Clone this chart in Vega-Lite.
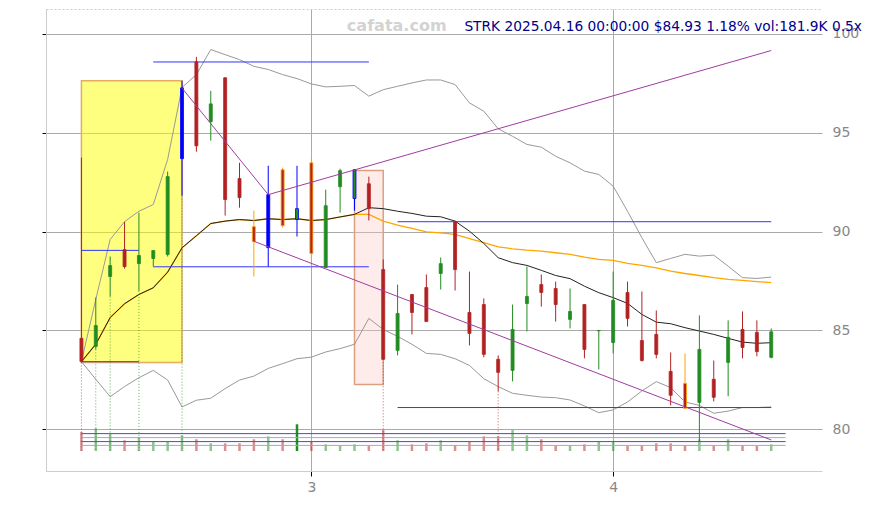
{
  "$schema": "https://vega.github.io/schema/vega-lite/v6.json",
  "width": 776,
  "height": 462,
  "autosize": "none",
  "padding": {"left": 46, "top": 9, "right": 50, "bottom": 34},
  "config": {"view": {"stroke": null}, "font": "DejaVu Sans", "axis": {"labelFont": "DejaVu Sans"}, "scale": {"continuousPadding": 0}},
  "datasets": {
    "c": [
      {"x": 2.2381, "o": 84.6, "h": 93.74, "l": 83.38, "c": 83.43, "t": "down", "v": 516, "d": "down", "m": 1, "bu": 83.42, "bl": 83.42, "ma": 83.42, "em": 83.42},
      {"x": 2.2857, "o": 84.19, "h": 86.67, "l": 84.04, "c": 85.25, "t": "up", "v": 616, "d": "up", "m": 1, "bu": 86.57, "bl": 82.53, "ma": 84.3, "em": 84.3},
      {"x": 2.3333, "o": 87.73, "h": 88.74, "l": 86.72, "c": 88.28, "t": "up", "v": 453, "d": "up", "m": 1, "bu": 89.6, "bl": 81.65, "ma": 85.65, "em": 85.65},
      {"x": 2.381, "o": 89.09, "h": 90.5, "l": 88.13, "c": 88.23, "t": "down", "v": 290, "d": "down", "bu": 90.5, "bl": 82.16, "ma": 86.35, "em": 86.35},
      {"x": 2.4286, "o": 88.38, "h": 90.96, "l": 87.0, "c": 88.79, "t": "up", "v": 380, "d": "up", "m": 1, "bu": 91.03, "bl": 82.61, "ma": 86.82, "em": 86.82},
      {"x": 2.4762, "o": 88.64, "h": 89.04, "l": 88.23, "c": 89.04, "t": "up", "v": 244, "d": "up", "bu": 91.37, "bl": 82.98, "ma": 87.16, "em": 87.16},
      {"x": 2.5238, "o": 88.84, "h": 93.03, "l": 88.74, "c": 92.78, "t": "up", "v": 244, "d": "up", "bu": 93.65, "bl": 82.49, "ma": 87.95, "em": 87.95},
      {"x": 2.5714, "o": 93.69, "h": 97.63, "l": 91.82, "c": 97.27, "t": "blue", "v": 426, "d": "up", "m": 1, "bu": 97.29, "bl": 81.13, "ma": 89.18, "em": 89.18},
      {"x": 2.619, "o": 98.59, "h": 98.84, "l": 94.04, "c": 94.34, "t": "down", "v": 318, "d": "down", "bu": 97.94, "bl": 81.47, "ma": 89.79, "em": 89.79},
      {"x": 2.6667, "o": 95.56, "h": 97.12, "l": 94.6, "c": 96.46, "t": "up", "v": 209, "d": "up", "bu": 99.21, "bl": 81.57, "ma": 90.41, "em": 90.41},
      {"x": 2.7143, "o": 97.78, "h": 97.8, "l": 90.81, "c": 91.62, "t": "down", "v": 209, "d": "down", "bu": 98.95, "bl": 82.06, "ma": 90.53, "em": 90.53},
      {"x": 2.7619, "o": 92.68, "h": 93.48, "l": 91.21, "c": 91.72, "t": "down", "v": 209, "d": "down", "bu": 98.7, "bl": 82.49, "ma": 90.61, "em": 90.61},
      {"x": 2.8095, "o": 90.25, "h": 91.06, "l": 87.73, "c": 89.49, "t": "orange", "v": 318, "d": "down", "bu": 98.36, "bl": 82.69, "ma": 90.56, "em": 90.56},
      {"x": 2.8571, "o": 89.19, "h": 93.33, "l": 88.23, "c": 91.87, "t": "blue", "v": 399, "d": "up", "bu": 98.2, "bl": 83.08, "ma": 90.65, "em": 90.65},
      {"x": 2.9048, "o": 93.13, "h": 93.23, "l": 90.2, "c": 90.3, "t": "orange", "v": 318, "d": "down", "bu": 97.94, "bl": 83.32, "ma": 90.61, "em": 90.61},
      {"x": 2.9524, "o": 90.61, "h": 93.33, "l": 89.75, "c": 91.16, "t": "bg", "v": 725, "d": "up", "hv": 1, "bu": 97.74, "bl": 83.57, "ma": 90.65, "em": 90.65},
      {"x": 3.0, "o": 93.48, "h": 93.74, "l": 88.23, "c": 88.89, "t": "orange", "v": 244, "d": "down", "bu": 97.47, "bl": 83.65, "ma": 90.56, "em": 90.56},
      {"x": 3.0476, "o": 88.18, "h": 92.12, "l": 88.18, "c": 91.31, "t": "up", "v": 182, "d": "up", "bu": 97.32, "bl": 83.91, "ma": 90.61, "em": 90.61},
      {"x": 3.0952, "o": 92.27, "h": 93.18, "l": 90.96, "c": 93.08, "t": "up", "v": 155, "d": "up", "bu": 97.35, "bl": 84.08, "ma": 90.74, "em": 90.74},
      {"x": 3.1429, "o": 91.67, "h": 93.13, "l": 91.06, "c": 93.13, "t": "bg", "v": 182, "d": "up", "bu": 97.39, "bl": 84.3, "ma": 90.87, "em": 90.87},
      {"x": 3.1905, "o": 92.42, "h": 92.78, "l": 90.56, "c": 91.16, "t": "down", "v": 136, "d": "down", "bu": 96.85, "bl": 85.61, "ma": 91.21, "em": 90.87},
      {"x": 3.2381, "o": 88.08, "h": 88.59, "l": 83.54, "c": 83.54, "t": "down", "v": 570, "d": "down", "m": 1, "bu": 97.18, "bl": 85.05, "ma": 91.16, "em": 90.53},
      {"x": 3.2857, "o": 83.99, "h": 87.32, "l": 83.74, "c": 85.86, "t": "up", "v": 290, "d": "up", "bu": 97.35, "bl": 84.7, "ma": 91.03, "em": 90.33},
      {"x": 3.3333, "o": 86.82, "h": 86.82, "l": 84.8, "c": 85.91, "t": "down", "v": 182, "d": "down", "bu": 97.52, "bl": 84.3, "ma": 90.92, "em": 90.16},
      {"x": 3.381, "o": 87.17, "h": 87.83, "l": 85.45, "c": 85.45, "t": "down", "v": 209, "d": "down", "bu": 97.67, "bl": 83.84, "ma": 90.78, "em": 89.99},
      {"x": 3.4286, "o": 87.88, "h": 88.69, "l": 87.07, "c": 88.38, "t": "up", "v": 290, "d": "up", "bu": 97.67, "bl": 83.79, "ma": 90.75, "em": 89.94},
      {"x": 3.4762, "o": 90.51, "h": 90.56, "l": 87.02, "c": 88.08, "t": "down", "v": 155, "d": "down", "bu": 97.44, "bl": 83.57, "ma": 90.53, "em": 89.86},
      {"x": 3.5238, "o": 85.91, "h": 87.98, "l": 84.24, "c": 84.85, "t": "down", "v": 255, "d": "down", "bu": 96.51, "bl": 83.23, "ma": 90.02, "em": 89.65},
      {"x": 3.5714, "o": 86.31, "h": 86.62, "l": 83.64, "c": 83.79, "t": "down", "v": 399, "d": "down", "bu": 96.09, "bl": 82.56, "ma": 89.4, "em": 89.44},
      {"x": 3.619, "o": 83.54, "h": 83.74, "l": 81.92, "c": 82.88, "t": "down", "v": 399, "d": "down", "m": 1, "bu": 95.2, "bl": 82.16, "ma": 88.68, "em": 89.23},
      {"x": 3.6667, "o": 82.98, "h": 86.31, "l": 82.42, "c": 85.05, "t": "up", "v": 570, "d": "up", "bu": 94.82, "bl": 81.82, "ma": 88.43, "em": 89.13},
      {"x": 3.7143, "o": 86.36, "h": 88.23, "l": 84.95, "c": 86.72, "t": "up", "v": 426, "d": "up", "bu": 94.41, "bl": 81.72, "ma": 88.29, "em": 89.06},
      {"x": 3.7619, "o": 87.32, "h": 87.83, "l": 86.21, "c": 86.92, "t": "down", "v": 318, "d": "down", "bu": 94.27, "bl": 81.63, "ma": 88.04, "em": 89.01},
      {"x": 3.8095, "o": 87.12, "h": 87.47, "l": 85.45, "c": 86.31, "t": "down", "v": 155, "d": "down", "bu": 93.81, "bl": 81.6, "ma": 87.78, "em": 88.93},
      {"x": 3.8571, "o": 85.56, "h": 87.12, "l": 85.1, "c": 85.96, "t": "up", "v": 155, "d": "up", "bu": 93.48, "bl": 81.48, "ma": 87.62, "em": 88.85},
      {"x": 3.9048, "o": 86.31, "h": 86.31, "l": 83.59, "c": 84.04, "t": "down", "v": 182, "d": "down", "bu": 93.06, "bl": 81.18, "ma": 87.24, "em": 88.71},
      {"x": 3.9524, "o": 84.98, "h": 85.0, "l": 83.03, "c": 85.0, "t": "up", "v": 255, "d": "up", "bu": 92.89, "bl": 80.84, "ma": 86.91, "em": 88.59},
      {"x": 4.0, "o": 84.39, "h": 87.98, "l": 83.84, "c": 86.52, "t": "up", "v": 255, "d": "up", "bu": 92.3, "bl": 80.98, "ma": 86.66, "em": 88.54},
      {"x": 4.0476, "o": 86.92, "h": 87.47, "l": 85.2, "c": 85.61, "t": "down", "v": 136, "d": "down", "bu": 91.03, "bl": 81.38, "ma": 86.37, "em": 88.39},
      {"x": 4.0952, "o": 84.49, "h": 86.97, "l": 83.43, "c": 83.48, "t": "down", "v": 155, "d": "down", "bu": 89.69, "bl": 81.94, "ma": 85.81, "em": 88.29},
      {"x": 4.1429, "o": 84.8, "h": 86.01, "l": 83.59, "c": 83.79, "t": "down", "v": 209, "d": "down", "bu": 88.43, "bl": 82.41, "ma": 85.42, "em": 88.17},
      {"x": 4.1905, "o": 82.93, "h": 83.89, "l": 81.21, "c": 81.72, "t": "down", "v": 209, "d": "down", "bu": 88.64, "bl": 82.11, "ma": 85.34, "em": 88.0},
      {"x": 4.2381, "o": 82.32, "h": 83.84, "l": 81.06, "c": 81.06, "t": "orange", "v": 155, "d": "down", "bu": 88.85, "bl": 81.38, "ma": 85.14, "em": 87.88},
      {"x": 4.2857, "o": 81.36, "h": 85.76, "l": 79.4, "c": 84.04, "t": "up", "v": 318, "d": "up", "bu": 88.76, "bl": 81.21, "ma": 84.97, "em": 87.78},
      {"x": 4.3333, "o": 82.53, "h": 83.48, "l": 81.41, "c": 81.62, "t": "down", "v": 155, "d": "down", "bu": 88.81, "bl": 80.81, "ma": 84.8, "em": 87.67},
      {"x": 4.381, "o": 83.38, "h": 85.51, "l": 81.67, "c": 84.65, "t": "up", "v": 318, "d": "up", "bu": 88.25, "bl": 80.92, "ma": 84.6, "em": 87.58},
      {"x": 4.4286, "o": 85.05, "h": 85.96, "l": 83.59, "c": 84.14, "t": "down", "v": 155, "d": "down", "bu": 87.67, "bl": 81.1, "ma": 84.41, "em": 87.53},
      {"x": 4.4762, "o": 84.9, "h": 85.51, "l": 83.69, "c": 83.93, "t": "down", "v": 136, "d": "down", "bu": 87.63, "bl": 81.1, "ma": 84.35, "em": 87.47},
      {"x": 4.5238, "o": 83.64, "h": 85.1, "l": 83.59, "c": 84.93, "t": "up", "v": 182, "d": "up", "bu": 87.7, "bl": 81.13, "ma": 84.38, "em": 87.42}
    ],
    "vl": [
      {"x1": 2.2381, "x2": 4.5714, "v": 472, "k": "b"},
      {"x1": 2.2381, "x2": 4.5714, "v": 364, "k": "g"},
      {"x1": 2.2381, "x2": 4.5714, "v": 255, "k": "b"},
      {"x1": 2.2381, "x2": 4.5714, "v": 152, "k": "g"}
    ],
    "z": [
      {"k": "y", "x1": 2.2381, "x2": 2.5714, "y1": 83.38, "y2": 97.63},
      {"k": "p", "x1": 3.1429, "x2": 3.2381, "y1": 82.27, "y2": 93.09}
    ],
    "lv": [
      {"x1": 2.4762, "x2": 3.1905, "y": 98.58},
      {"x1": 2.2381, "x2": 2.4286, "y": 89.05},
      {"x1": 2.4762, "x2": 3.1905, "y": 88.22},
      {"x1": 2.2381, "x2": 2.4286, "y": 83.42},
      {"x1": 3.2857, "x2": 4.5238, "y": 90.5},
      {"x1": 3.2857, "x2": 4.5238, "y": 81.1}
    ],
    "tr": [
      {"g": "a", "x": 2.5714, "y": 97.26},
      {"g": "a", "x": 2.8571, "y": 91.87},
      {"g": "a", "x": 4.5238, "y": 99.16},
      {"g": "b", "x": 2.8095, "y": 89.51},
      {"g": "b", "x": 4.5238, "y": 79.46}
    ]
  },
  "resolve": {"scale": {"y": "independent"}, "axis": {"y": "independent", "x": "independent"}},
  "layer": [
    {
      "data": {"name": "c"},
      "mark": {"type": "bar", "width": 2.5},
      "encoding": {
        "x": {"field": "x", "type": "quantitative", "scale": {"domain": [2.1207, 4.692], "nice": false, "zero": false, "padding": 0}, "axis": null},
        "y": {"field": "v", "type": "quantitative", "scale": {"domain": [-543, 12000], "nice": false, "zero": false, "padding": 0}, "axis": null},
        "y2": {"datum": 0},
        "color": {"condition": {"test": "datum.d == 'up'", "value": "#228b22"}, "value": "#b22222"},
        "opacity": {"condition": {"test": "datum.hv == 1", "value": 1}, "value": 0.5}
      }
    },
    {
      "data": {"name": "vl"},
      "mark": {"type": "rule", "strokeWidth": 1},
      "encoding": {
        "x": {"field": "x1", "type": "quantitative", "scale": {"domain": [2.1207, 4.692], "nice": false, "zero": false, "padding": 0}, "axis": null},
        "x2": {"field": "x2"},
        "y": {"field": "v", "type": "quantitative", "scale": {"domain": [-543, 12000], "nice": false, "zero": false, "padding": 0}, "axis": null},
        "color": {"condition": {"test": "datum.k == 'b'", "value": "#4444ff"}, "value": "#aaaaaa"}
      }
    },
    {
      "data": {"name": "z"},
      "mark": {"type": "rect", "strokeWidth": 1.5},
      "encoding": {
        "x": {"field": "x1", "type": "quantitative", "scale": {"domain": [2.1207, 4.692], "nice": false, "zero": false, "padding": 0},
              "axis": {"orient": "bottom", "values": [3, 4], "grid": true, "gridColor": "#aaaaaa", "tickColor": "#000000", "tickSize": 5, "labelColor": "#888888", "labelFontSize": 14, "labelPadding": 4, "domainColor": "#cccccc", "title": null, "labelFlush": false}},
        "x2": {"field": "x2"},
        "y": {"field": "y1", "type": "quantitative", "scale": {"domain": [77.89, 101.26], "nice": false, "zero": false, "padding": 0},
              "axis": {"orient": "left", "values": [80, 85, 90, 95, 100], "grid": true, "gridColor": "#aaaaaa", "tickColor": "#000000", "tickSize": 4, "labels": false, "domainColor": "#cccccc", "title": null}},
        "y2": {"field": "y2"},
        "fill": {"condition": {"test": "datum.k == 'y'", "value": "#ffff00"}, "value": "#f9c8c0"},
        "fillOpacity": {"condition": {"test": "datum.k == 'y'", "value": 0.5}, "value": 0.35},
        "stroke": {"condition": {"test": "datum.k == 'y'", "value": "#e6aa64"}, "value": "#dda080"}
      }
    },
    {
      "data": {"name": "c"},
      "mark": {"type": "line", "color": "#999999", "strokeWidth": 1},
      "encoding": {
        "x": {"field": "x", "type": "quantitative", "scale": {"domain": [2.1207, 4.692], "nice": false, "zero": false, "padding": 0},
              "axis": {"orient": "top", "labels": false, "ticks": false, "grid": false, "domainColor": "#cccccc", "domainDash": [2, 2], "title": null}},
        "y": {"field": "bu", "type": "quantitative", "scale": {"domain": [77.89, 101.26], "nice": false, "zero": false, "padding": 0},
              "axis": {"orient": "right", "values": [80, 85, 90, 95, 100], "grid": false, "ticks": false, "tickSize": 0, "domain": false, "labelColor": "#888888", "labelFontSize": 14, "labelPadding": 10, "title": null}}
      }
    },
    {
      "data": {"name": "c"},
      "mark": {"type": "line", "color": "#999999", "strokeWidth": 1},
      "encoding": {
        "x": {"field": "x", "type": "quantitative", "scale": {"domain": [2.1207, 4.692], "nice": false, "zero": false, "padding": 0}, "axis": null},
        "y": {"field": "bl", "type": "quantitative", "scale": {"domain": [77.89, 101.26], "nice": false, "zero": false, "padding": 0}, "axis": null}
      }
    },
    {
      "data": {"name": "c"},
      "mark": {"type": "line", "color": "#ffa500", "strokeWidth": 1.3},
      "encoding": {
        "x": {"field": "x", "type": "quantitative", "scale": {"domain": [2.1207, 4.692], "nice": false, "zero": false, "padding": 0}, "axis": null},
        "y": {"field": "em", "type": "quantitative", "scale": {"domain": [77.89, 101.26], "nice": false, "zero": false, "padding": 0}, "axis": null}
      }
    },
    {
      "data": {"name": "c"},
      "mark": {"type": "line", "color": "#222222", "strokeWidth": 1},
      "encoding": {
        "x": {"field": "x", "type": "quantitative", "scale": {"domain": [2.1207, 4.692], "nice": false, "zero": false, "padding": 0}, "axis": null},
        "y": {"field": "ma", "type": "quantitative", "scale": {"domain": [77.89, 101.26], "nice": false, "zero": false, "padding": 0}, "axis": null}
      }
    },
    {
      "data": {"name": "lv"},
      "mark": {"type": "rule", "color": "#3333ff", "strokeWidth": 1},
      "encoding": {
        "x": {"field": "x1", "type": "quantitative", "scale": {"domain": [2.1207, 4.692], "nice": false, "zero": false, "padding": 0}, "axis": null},
        "x2": {"field": "x2"},
        "y": {"field": "y", "type": "quantitative", "scale": {"domain": [77.89, 101.26], "nice": false, "zero": false, "padding": 0}, "axis": null}
      }
    },
    {
      "data": {"name": "c"},
      "transform": [{"filter": "datum.m == 1"}],
      "mark": {"type": "rule", "strokeWidth": 1, "strokeDash": [1, 2], "opacity": 0.7},
      "encoding": {
        "x": {"field": "x", "type": "quantitative", "scale": {"domain": [2.1207, 4.692], "nice": false, "zero": false, "padding": 0}, "axis": null},
        "y": {"field": "l", "type": "quantitative", "scale": {"domain": [77.89, 101.26], "nice": false, "zero": false, "padding": 0}, "axis": null},
        "y2": {"datum": 78.9},
        "color": {"condition": {"test": "datum.d == 'up'", "value": "#228b22"}, "value": "#b22222"}
      }
    },
    {
      "data": {"name": "c"},
      "mark": {"type": "rule", "strokeWidth": 1},
      "encoding": {
        "x": {"field": "x", "type": "quantitative", "scale": {"domain": [2.1207, 4.692], "nice": false, "zero": false, "padding": 0}, "axis": null},
        "y": {"field": "l", "type": "quantitative", "scale": {"domain": [77.89, 101.26], "nice": false, "zero": false, "padding": 0}, "axis": null},
        "y2": {"field": "h"},
        "color": {"condition": [
          {"test": "datum.t == 'up'", "value": "#228b22"},
          {"test": "datum.t == 'down'", "value": "#b22222"},
          {"test": "datum.t == 'orange'", "value": "#ffa500"}
        ], "value": "#0000ff"}
      }
    },
    {
      "data": {"name": "c"},
      "mark": {"type": "bar", "width": 3, "strokeWidth": 0.8},
      "encoding": {
        "x": {"field": "x", "type": "quantitative", "scale": {"domain": [2.1207, 4.692], "nice": false, "zero": false, "padding": 0}, "axis": null},
        "y": {"field": "o", "type": "quantitative", "scale": {"domain": [77.89, 101.26], "nice": false, "zero": false, "padding": 0}, "axis": null},
        "y2": {"field": "c"},
        "fill": {"condition": [
          {"test": "datum.t == 'up' || datum.t == 'bg'", "value": "#228b22"},
          {"test": "datum.t == 'blue'", "value": "#0000ff"}
        ], "value": "#b22222"},
        "stroke": {"condition": [
          {"test": "datum.t == 'up'", "value": "#228b22"},
          {"test": "datum.t == 'down'", "value": "#b22222"},
          {"test": "datum.t == 'orange'", "value": "#ffa500"}
        ], "value": "#0000ff"}
      }
    },
    {
      "data": {"name": "tr"},
      "mark": {"type": "line", "color": "#a03ca0", "strokeWidth": 1},
      "encoding": {
        "x": {"field": "x", "type": "quantitative", "scale": {"domain": [2.1207, 4.692], "nice": false, "zero": false, "padding": 0}, "axis": null},
        "y": {"field": "y", "type": "quantitative", "scale": {"domain": [77.89, 101.26], "nice": false, "zero": false, "padding": 0}, "axis": null},
        "detail": {"field": "g"}
      }
    },
    {
      "data": {"values": [{"s": "cafata.com"}]},
      "mark": {"type": "text", "fontSize": 16, "fontWeight": "bold", "color": "#d3d3d3", "align": "center", "baseline": "alphabetic", "font": "DejaVu Sans"},
      "encoding": {
        "x": {"datum": 3.2828, "type": "quantitative", "scale": {"domain": [2.1207, 4.692], "nice": false, "zero": false, "padding": 0}, "axis": null},
        "y": {"datum": 100.17, "type": "quantitative", "scale": {"domain": [77.89, 101.26], "nice": false, "zero": false, "padding": 0}, "axis": null},
        "text": {"field": "s"}
      }
    },
    {
      "data": {"values": [{"s": "STRK 2025.04.16 00:00:00 $84.93 1.18% vol:181.9K 0.5x"}]},
      "mark": {"type": "text", "fontSize": 13.75, "color": "#00008b", "align": "right", "baseline": "alphabetic", "font": "DejaVu Sans"},
      "encoding": {
        "x": {"datum": 4.8245, "type": "quantitative", "scale": {"domain": [2.1207, 4.692], "nice": false, "zero": false, "padding": 0}, "axis": null},
        "y": {"datum": 100.15, "type": "quantitative", "scale": {"domain": [77.89, 101.26], "nice": false, "zero": false, "padding": 0}, "axis": null},
        "text": {"field": "s"}
      }
    }
  ]
}
